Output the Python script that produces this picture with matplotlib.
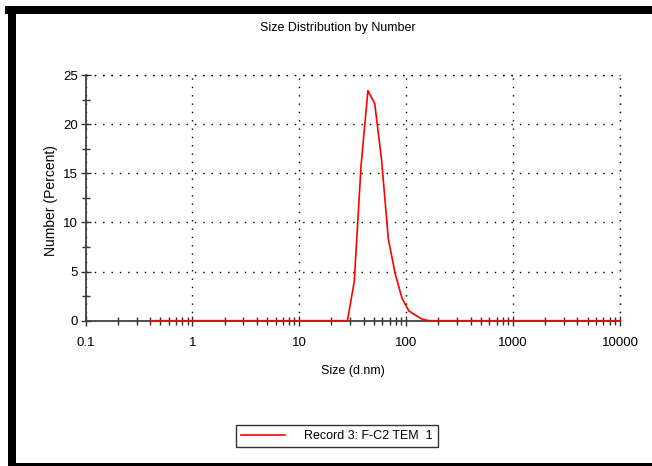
import matplotlib
matplotlib.use("Agg")
import matplotlib.pyplot as plt
from matplotlib.patches import Rectangle
from matplotlib import font_manager
from matplotlib.ticker import LogLocator, NullFormatter

names = {f.name for f in font_manager.fontManager.ttflist}
narrow = 'Liberation Sans Narrow' in names
fam = ['Liberation Sans Narrow'] if narrow else ['Liberation Sans']
plt.rcParams['font.family'] = fam + ['DejaVu Sans']
fs = 10 if narrow else 9

# DLS size bins (d.nm)
sizes = [0.4, 0.4632, 0.5365, 0.6213, 0.7195, 0.8332, 0.9649, 1.117, 1.294, 1.499,
         1.736, 2.010, 2.328, 2.696, 3.122, 3.615, 4.187, 4.849, 5.615, 6.503,
         7.531, 8.721, 10.10, 11.70, 13.54, 15.69, 18.17, 21.04, 24.36, 28.21,
         32.67, 37.84, 43.82, 50.75, 58.77, 68.06, 78.82, 91.28, 105.7, 122.4,
         141.8, 164.2, 190.1, 220.2, 255.0, 295.3, 342.0, 396.1, 458.7, 531.2,
         615.1, 712.4, 825.0, 955.4, 1106, 1281, 1484, 1718, 1990, 2305,
         2669, 3091, 3580, 4145, 4801, 5560, 6439, 7456, 8635, 10000]
# Number (%)
number = [0]*29 + [0.0, 4.0, 15.8, 23.4, 22.1, 16.4, 8.3, 4.8, 2.3, 1.0, 0.55,
                   0.15, 0.0] + [0]*28

title = "Size Distribution by Number"
xlabel = "Size (d.nm)"
ylabel = "Number (Percent)"
legend_label = "Record 3: F-C2 TEM  1"
xticks = [0.1, 1, 10, 100, 1000, 10000]
xticklabels = ["0.1", "1", "10", "100", "1000", "10000"]
yticks = [0, 5, 10, 15, 20, 25]

fig = plt.figure(figsize=(6.52, 4.66), dpi=100)

# black frame
fig.patches.append(Rectangle((8/652, 0), 8/652, 1 - 6/466, transform=fig.transFigure,
                             facecolor='black', edgecolor='none', zorder=0))
fig.patches.append(Rectangle((5/652, 1 - 13.5/466), 1, 7.5/466, transform=fig.transFigure,
                             facecolor='black', edgecolor='none', zorder=0))
fig.patches.append(Rectangle((8/652, 0), 1, 3.5/466, transform=fig.transFigure,
                             facecolor='black', edgecolor='none', zorder=0))

ax = fig.add_axes([85.5/652, 1 - 320.7/466, (620 - 85.5)/652, (320.7 - 75)/466])
ax.set_xscale('log')
ax.set_xlim(0.1, 10000)
ax.set_ylim(0, 25)

ax.plot(sizes, number, color='#ff0000', lw=1.2, label=legend_label, zorder=5, clip_on=False)

ax.set_xticks(xticks)
ax.set_xticklabels(xticklabels)
ax.set_yticks(yticks)
ax.set_yticks([2.5, 7.5, 12.5, 17.5, 22.5], minor=True)
ax.xaxis.set_minor_locator(LogLocator(base=10, subs=range(2, 10), numticks=20))
ax.xaxis.set_minor_formatter(NullFormatter())

ax.tick_params(which='both', direction='inout', colors='#303030', labelcolor='black',
               labelsize=fs + 0.5)
ax.tick_params(which='major', length=7, width=1)
ax.tick_params(which='minor', length=6, width=1)
ax.tick_params(axis='x', pad=8)
ax.tick_params(axis='y', pad=2)

for s in ['top', 'right']:
    ax.spines[s].set_visible(False)
for s in ['left', 'bottom']:
    ax.spines[s].set_color('#404040')
    ax.spines[s].set_linewidth(1.3)

ax.grid(True, which='major', color='black', linestyle=(0, (1, 5)), linewidth=1)
ax.axhline(25, color='black', linestyle=(0, (1, 5)), linewidth=1, clip_on=False)
ax.axvline(10000, color='black', linestyle=(0, (1, 5)), linewidth=1, clip_on=False)

ax.set_xlabel(xlabel, fontsize=fs, labelpad=12)
ax.set_ylabel(ylabel, fontsize=10, va='center')
ax.yaxis.set_label_coords((51 - 85.5) / 534.5, 0.49)
fig.text(338/652, 1 - 28/466, title, ha='center', va='center', fontsize=fs)

leg = fig.legend(loc='center', bbox_to_anchor=(337/652, 1 - 436/466), frameon=True,
                 fancybox=False, edgecolor='black', fontsize=fs, handlelength=3.5,
                 borderpad=0.4, handletextpad=1.5)
leg.get_frame().set_linewidth(1.0)

fig.savefig("out.png", dpi=100)
